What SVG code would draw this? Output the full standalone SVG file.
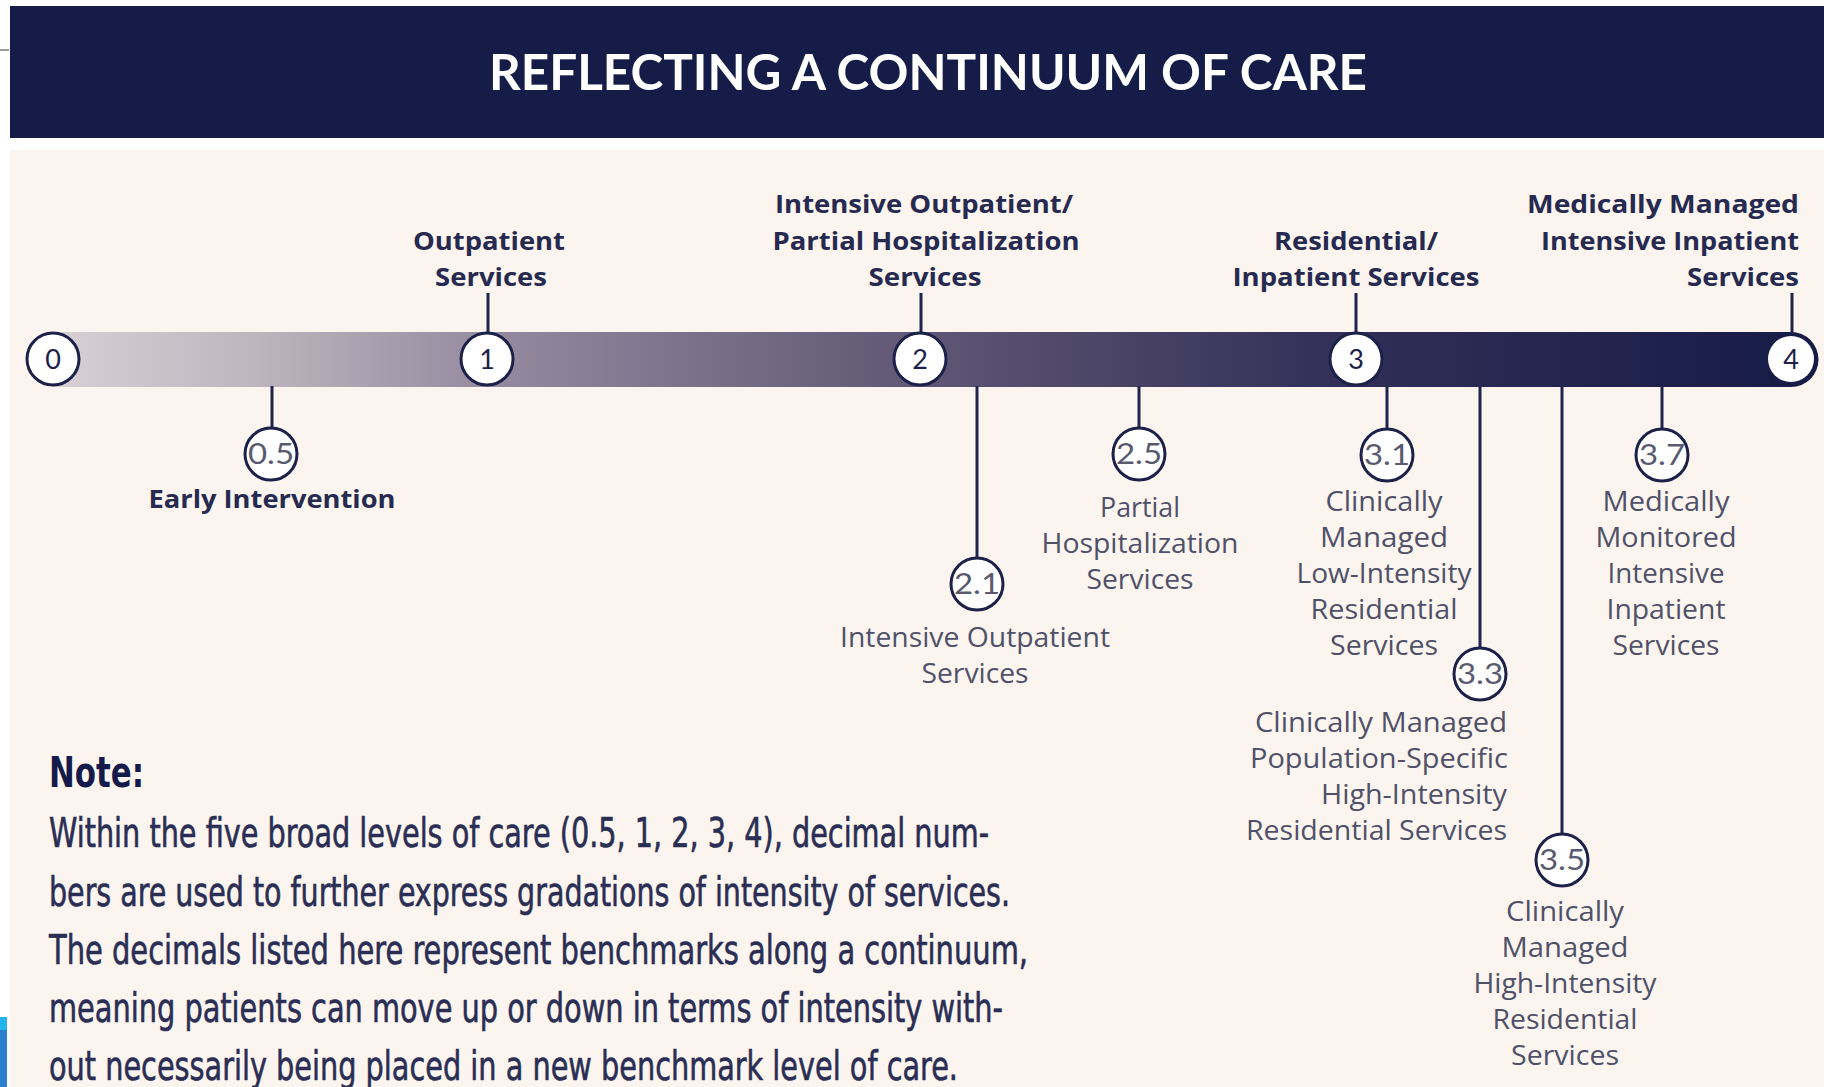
<svg xmlns="http://www.w3.org/2000/svg" width="1824" height="1087" viewBox="0 0 1824 1087">
  <defs>
    <linearGradient id="barGrad" gradientUnits="userSpaceOnUse" x1="53" y1="0" x2="1818" y2="0">
      <stop offset="0" stop-color="#d8d0d5"/>
      <stop offset="0.12" stop-color="#bdb3bd"/>
      <stop offset="0.245" stop-color="#968ba0"/>
      <stop offset="0.38" stop-color="#776d87"/>
      <stop offset="0.49" stop-color="#5f5774"/>
      <stop offset="0.6" stop-color="#4a4466"/>
      <stop offset="0.74" stop-color="#302e57"/>
      <stop offset="1" stop-color="#151b45"/>
    </linearGradient>
    <style>
      .lblb { font-family: "Open Sans", Lato, "Liberation Sans", sans-serif; font-weight: 700; font-size: 25.5px; fill: #272a50; }
      .lbl { font-family: "Open Sans", Lato, "Liberation Sans", sans-serif; font-weight: 400; font-size: 27px; fill: #4f5169; }
      .mid { text-anchor: middle; }
      .end { text-anchor: end; }
      .ring { fill: #ffffff; stroke: #1c2149; stroke-width: 3; }
      .num { font-family: Lato, "Open Sans", "Liberation Sans", sans-serif; font-size: 27px; fill: #1c2149; text-anchor: middle; }
      .dec { font-family: Lato, "Open Sans", "Liberation Sans", sans-serif; font-size: 28px; fill: #595a70; text-anchor: middle; }
      .stem { stroke: #1f2450; stroke-width: 3; fill: none; }
      .note { font-family: "Liberation Sans Narrow", "DejaVu Sans Condensed", "Liberation Sans", sans-serif; font-size: 40px; fill: #2a2e54; stroke: #2a2e54; stroke-width: 0.6; }
    </style>
  </defs>

  <!-- page background -->
  <rect x="0" y="0" width="1824" height="1087" fill="#ffffff"/>
  <rect x="10" y="150" width="1814" height="937" fill="#fcf5ef"/>
  <rect x="0" y="49" width="9" height="2" fill="#9a9aa0"/>
  <rect x="0" y="1017" width="7" height="70" fill="#2a80cc"/>
  <rect x="0" y="1017" width="7" height="13" fill="#22b5ea"/>

  <!-- header -->
  <g id="header">
    <rect x="10" y="6" width="1814" height="132" fill="#141c47"/>
    <text x="928" y="90" text-anchor="middle" font-family="Lato, 'Open Sans', 'Liberation Sans', sans-serif" font-weight="700" font-size="49" fill="#ffffff" textLength="878" lengthAdjust="spacingAndGlyphs">REFLECTING A CONTINUUM OF CARE</text>
  </g>

  <!-- timeline bar -->
  <g id="bar">
    <path d="M53,332 H1791 A27.5,27.5 0 0 1 1791,387 H53 Z" fill="url(#barGrad)"/>
  </g>

  <!-- connectors -->
  <g id="connectors">
    <line class="stem" x1="488" y1="293" x2="488" y2="333"/>
    <line class="stem" x1="921" y1="293" x2="921" y2="333"/>
    <line class="stem" x1="1356" y1="293" x2="1356" y2="333"/>
    <line class="stem" x1="1792" y1="293" x2="1792" y2="333"/>
    <line class="stem" x1="272" y1="386" x2="272" y2="428"/>
    <line class="stem" x1="977" y1="386" x2="977" y2="558"/>
    <line class="stem" x1="1139" y1="386" x2="1139" y2="428"/>
    <line class="stem" x1="1387" y1="386" x2="1387" y2="429"/>
    <line class="stem" x1="1480" y1="386" x2="1480" y2="648"/>
    <line class="stem" x1="1562" y1="386" x2="1562" y2="834"/>
    <line class="stem" x1="1662" y1="386" x2="1662" y2="429"/>
  </g>

  <!-- main levels -->
  <g id="level-0">
    <circle class="ring" cx="53" cy="359" r="26"/>
    <text class="num" x="53" y="369">0</text>
  </g>
  <g id="level-1">
    <circle class="ring" cx="487" cy="359" r="26"/>
    <text class="num" x="487" y="369">1</text>
    <text class="lblb mid" x="489" y="250" textLength="152" lengthAdjust="spacingAndGlyphs">Outpatient</text>
    <text class="lblb mid" x="491" y="286" textLength="112" lengthAdjust="spacingAndGlyphs">Services</text>
  </g>
  <g id="level-2">
    <circle class="ring" cx="920" cy="359" r="26"/>
    <text class="num" x="920" y="369">2</text>
    <text class="lblb mid" x="924" y="213" textLength="298" lengthAdjust="spacingAndGlyphs">Intensive Outpatient/</text>
    <text class="lblb mid" x="926" y="250" textLength="307" lengthAdjust="spacingAndGlyphs">Partial Hospitalization</text>
    <text class="lblb mid" x="925" y="286" textLength="113" lengthAdjust="spacingAndGlyphs">Services</text>
  </g>
  <g id="level-3">
    <circle class="ring" cx="1356" cy="359" r="26"/>
    <text class="num" x="1356" y="369">3</text>
    <text class="lblb mid" x="1356" y="250" textLength="164" lengthAdjust="spacingAndGlyphs">Residential/</text>
    <text class="lblb mid" x="1356" y="286" textLength="247" lengthAdjust="spacingAndGlyphs">Inpatient Services</text>
  </g>
  <g id="level-4">
    <circle cx="1791" cy="359" r="23" fill="#ffffff"/>
    <text class="num" x="1791" y="369">4</text>
    <text class="lblb end" x="1799" y="213" textLength="272" lengthAdjust="spacingAndGlyphs">Medically Managed</text>
    <text class="lblb end" x="1799" y="250" textLength="258" lengthAdjust="spacingAndGlyphs">Intensive Inpatient</text>
    <text class="lblb end" x="1799" y="286" textLength="112" lengthAdjust="spacingAndGlyphs">Services</text>
  </g>

  <!-- sub levels -->
  <g id="level-0-5">
    <circle class="ring" cx="271" cy="454" r="26"/>
    <text class="dec" x="271" y="464" textLength="46" lengthAdjust="spacingAndGlyphs">0.5</text>
    <text class="lblb mid" x="272" y="508" textLength="247" lengthAdjust="spacingAndGlyphs">Early Intervention</text>
  </g>
  <g id="level-2-1">
    <circle class="ring" cx="977" cy="584" r="26"/>
    <text class="dec" x="977" y="594" textLength="46" lengthAdjust="spacingAndGlyphs">2.1</text>
    <text class="lbl mid" x="975" y="647" textLength="270" lengthAdjust="spacingAndGlyphs">Intensive Outpatient</text>
    <text class="lbl mid" x="975" y="683" textLength="107" lengthAdjust="spacingAndGlyphs">Services</text>
  </g>
  <g id="level-2-5">
    <circle class="ring" cx="1139" cy="454" r="26"/>
    <text class="dec" x="1139" y="464" textLength="46" lengthAdjust="spacingAndGlyphs">2.5</text>
    <text class="lbl mid" x="1140" y="517" textLength="80" lengthAdjust="spacingAndGlyphs">Partial</text>
    <text class="lbl mid" x="1140" y="553" textLength="197" lengthAdjust="spacingAndGlyphs">Hospitalization</text>
    <text class="lbl mid" x="1140" y="589" textLength="107" lengthAdjust="spacingAndGlyphs">Services</text>
  </g>
  <g id="level-3-1">
    <circle class="ring" cx="1387" cy="455" r="26"/>
    <text class="dec" x="1387" y="465" textLength="46" lengthAdjust="spacingAndGlyphs">3.1</text>
    <text class="lbl mid" x="1384" y="511" textLength="117" lengthAdjust="spacingAndGlyphs">Clinically</text>
    <text class="lbl mid" x="1384" y="547" textLength="128" lengthAdjust="spacingAndGlyphs">Managed</text>
    <text class="lbl mid" x="1384" y="583" textLength="175" lengthAdjust="spacingAndGlyphs">Low-Intensity</text>
    <text class="lbl mid" x="1384" y="619" textLength="147" lengthAdjust="spacingAndGlyphs">Residential</text>
    <text class="lbl mid" x="1384" y="655" textLength="108" lengthAdjust="spacingAndGlyphs">Services</text>
  </g>
  <g id="level-3-3">
    <circle class="ring" cx="1480" cy="674" r="26"/>
    <text class="dec" x="1480" y="684" textLength="46" lengthAdjust="spacingAndGlyphs">3.3</text>
    <text class="lbl end" x="1507" y="732" textLength="252" lengthAdjust="spacingAndGlyphs">Clinically Managed</text>
    <text class="lbl end" x="1508" y="768" textLength="258" lengthAdjust="spacingAndGlyphs">Population-Specific</text>
    <text class="lbl end" x="1507" y="804" textLength="186" lengthAdjust="spacingAndGlyphs">High-Intensity</text>
    <text class="lbl end" x="1507" y="840" textLength="261" lengthAdjust="spacingAndGlyphs">Residential Services</text>
  </g>
  <g id="level-3-5">
    <circle class="ring" cx="1562" cy="860" r="26"/>
    <text class="dec" x="1562" y="870" textLength="46" lengthAdjust="spacingAndGlyphs">3.5</text>
    <text class="lbl mid" x="1565" y="921" textLength="118" lengthAdjust="spacingAndGlyphs">Clinically</text>
    <text class="lbl mid" x="1565" y="957" textLength="127" lengthAdjust="spacingAndGlyphs">Managed</text>
    <text class="lbl mid" x="1565" y="993" textLength="183" lengthAdjust="spacingAndGlyphs">High-Intensity</text>
    <text class="lbl mid" x="1565" y="1029" textLength="145" lengthAdjust="spacingAndGlyphs">Residential</text>
    <text class="lbl mid" x="1565" y="1065" textLength="108" lengthAdjust="spacingAndGlyphs">Services</text>
  </g>
  <g id="level-3-7">
    <circle class="ring" cx="1662" cy="455" r="26"/>
    <text class="dec" x="1662" y="465" textLength="46" lengthAdjust="spacingAndGlyphs">3.7</text>
    <text class="lbl mid" x="1666" y="511" textLength="127" lengthAdjust="spacingAndGlyphs">Medically</text>
    <text class="lbl mid" x="1666" y="547" textLength="141" lengthAdjust="spacingAndGlyphs">Monitored</text>
    <text class="lbl mid" x="1666" y="583" textLength="117" lengthAdjust="spacingAndGlyphs">Intensive</text>
    <text class="lbl mid" x="1666" y="619" textLength="119" lengthAdjust="spacingAndGlyphs">Inpatient</text>
    <text class="lbl mid" x="1666" y="655" textLength="107" lengthAdjust="spacingAndGlyphs">Services</text>
  </g>

  <!-- note -->
  <g id="note">
    <text x="49" y="787" font-family="'Liberation Sans Narrow', 'DejaVu Sans Condensed', 'Liberation Sans', sans-serif" font-weight="700" font-size="42" fill="#141a4a" textLength="95" lengthAdjust="spacingAndGlyphs">Note:</text>
    <text class="note" x="49" y="847" textLength="940" lengthAdjust="spacingAndGlyphs">Within the five broad levels of care (0.5, 1, 2, 3, 4), decimal num-</text>
    <text class="note" x="49" y="906" textLength="961" lengthAdjust="spacingAndGlyphs">bers are used to further express gradations of intensity of services.</text>
    <text class="note" x="49" y="964" textLength="979" lengthAdjust="spacingAndGlyphs">The decimals listed here represent benchmarks along a continuum,</text>
    <text class="note" x="49" y="1022" textLength="954" lengthAdjust="spacingAndGlyphs">meaning patients can move up or down in terms of intensity with-</text>
    <text class="note" x="49" y="1080" textLength="909" lengthAdjust="spacingAndGlyphs">out necessarily being placed in a new benchmark level of care.</text>
  </g>
</svg>
